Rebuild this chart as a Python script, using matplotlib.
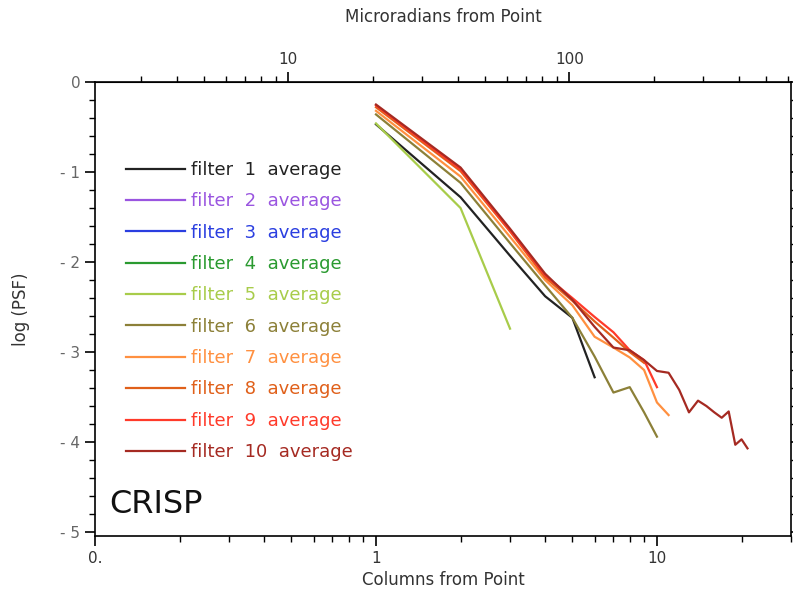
import matplotlib
matplotlib.use("Agg")
import matplotlib.pyplot as plt
from matplotlib.ticker import FixedLocator, LogLocator, NullFormatter, FixedFormatter

# columns from point and log(PSF) per filter (filters 2-4 have no data drawn)
f1_y = [-0.47, -1.28, -1.93, -2.38, -2.62, -3.28]
f2_y = []
f3_y = []
f4_y = []
f5_y = [-0.46, -1.40, -2.74]
f6_y = [-0.36, -1.12, -1.79, -2.26, -2.62, -3.05, -3.45, -3.39, -3.67, -3.94]
f7_y = [-0.32, -1.05, -1.72, -2.20, -2.48, -2.83, -2.95, -3.06, -3.20, -3.56, -3.70]
f8_y = [-0.28, -0.99, -1.66, -2.17, -2.43, -2.66, -2.84, -3.00, -3.12]
f9_y = [-0.26, -0.97, -1.65, -2.15, -2.40, -2.61, -2.78, -2.98, -3.09, -3.39]
f10_y = [-0.25, -0.95, -1.63, -2.13, -2.42, -2.72, -2.95, -2.98, -3.09, -3.21,
         -3.23, -3.42, -3.67, -3.54, -3.60, -3.67, -3.73, -3.66, -4.03, -3.97, -4.07]

series = [f1_y, f2_y, f3_y, f4_y, f5_y, f6_y, f7_y, f8_y, f9_y, f10_y]
labels = [f"filter  {i}  average" for i in range(1, 11)]
colors = ["#222222", "#9a55e0", "#2a3ee0", "#2a9a30", "#a8cc4a",
          "#8c8038", "#ff9040", "#e0601a", "#ff3a2a", "#a52a22"]

URAD_PER_COL = 20.5

fig = plt.figure(figsize=(7.93, 5.94), dpi=100)
ax = fig.add_axes([0.1198, 0.0976, 0.8777, 0.7643])

for ys, lab, c in zip(series, labels, colors):
    xs = list(range(1, len(ys) + 1))
    ax.plot(xs, ys, color=c, lw=1.6, label=lab)

ax.set_xscale("log")
ax.set_xlim(0.1, 30)
ax.set_ylim(-5.044, 0)

txt = "#333333"
ax.xaxis.set_major_locator(FixedLocator([0.1, 1, 10]))
ax.xaxis.set_major_formatter(FixedFormatter(["0.", "1", "10"]))
ax.xaxis.set_minor_locator(LogLocator(base=10, subs=range(2, 10)))
ax.xaxis.set_minor_formatter(NullFormatter())

ax.set_yticks([0, -1, -2, -3, -4, -5])
ax.set_yticklabels(["0", "- 1", "- 2", "- 3", "- 4", "- 5"])
ax.set_yticks([-0.2 * k for k in range(1, 25) if k % 5], minor=True)

ax.tick_params(which="major", direction="out", length=7, width=1.2,
               labelsize=11, labelcolor=txt, right=True)
ax.tick_params(which="minor", direction="out", length=4, width=1.0, right=True)
ax.tick_params(axis="y", labelcolor="#666666")
for s in ax.spines.values():
    s.set_linewidth(1.2)

ax.set_xlabel("Columns from Point", fontsize=12, color=txt, labelpad=4)
ax.set_ylabel("log (PSF)", fontsize=12, color=txt, labelpad=22)

top = ax.secondary_xaxis("top", functions=(lambda x: x * URAD_PER_COL,
                                           lambda x: x / URAD_PER_COL))
top.xaxis.set_major_locator(FixedLocator([10, 100]))
top.xaxis.set_major_formatter(FixedFormatter(["10", "100"]))
top.xaxis.set_minor_locator(LogLocator(base=10, subs=range(2, 10)))
top.xaxis.set_minor_formatter(NullFormatter())
top.tick_params(which="major", direction="out", length=7, width=1.2,
                labelsize=11, labelcolor=txt)
top.tick_params(which="minor", direction="out", length=4, width=1.0)
top.set_xlabel("Microradians from Point", fontsize=12, color=txt, labelpad=22)

ax.legend(loc="upper left", bbox_to_anchor=(0.021, 0.862), frameon=False,
          fontsize=13, handlelength=3.3, handletextpad=0.3, labelspacing=0.74,
          labelcolor="linecolor")

ax.text(0.02, 0.035, "CRISP", transform=ax.transAxes, fontsize=23,
        color="#111111", ha="left", va="bottom", fontweight="medium")

fig.savefig("out.png", dpi=100)
